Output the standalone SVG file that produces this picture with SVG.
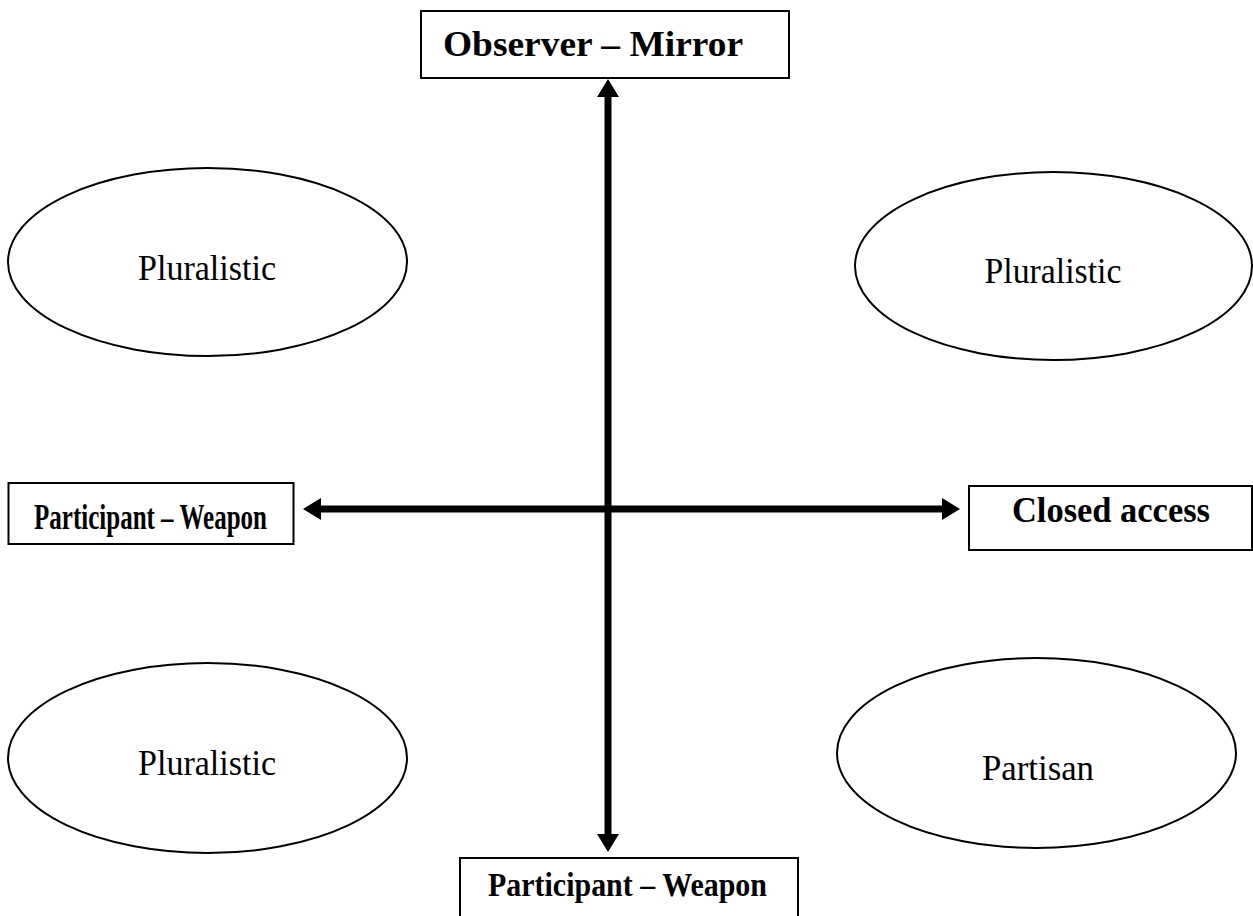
<svg xmlns="http://www.w3.org/2000/svg" width="1253" height="916" viewBox="0 0 1253 916">
<style>
.box{fill:#fff;stroke:#000;stroke-width:2}
.ell{fill:#fff;stroke:#000;stroke-width:2}
.bt{font-family:"Liberation Serif","Times New Roman",serif;font-weight:bold;fill:#000}
.et{font-family:"Liberation Serif","Times New Roman",serif;font-size:35px;fill:#000;text-anchor:middle}
.ax{stroke:#000;stroke-width:7;fill:none;marker-start:url(#ah);marker-end:url(#ah)}
</style>
<defs>
<marker id="ah" markerUnits="userSpaceOnUse" markerWidth="20" markerHeight="24" refX="0" refY="11" orient="auto-start-reverse" viewBox="0 0 20 24">
<path d="M0,0 L18,11 L0,22 z" fill="#000"/>
</marker>
</defs>
<rect width="1253" height="916" fill="#fff"/>
<g id="connectors">
<line class="ax" x1="608" y1="97" x2="608" y2="834"/>
<line class="ax" x1="321" y1="509" x2="942" y2="509"/>
</g>
<g id="observer-mirror">
<rect class="box" x="421" y="11" width="368" height="67"/>
<text class="bt" x="443" y="56" font-size="36" textLength="300" lengthAdjust="spacingAndGlyphs">Observer – Mirror</text>
</g>
<g id="participant-weapon-left">
<rect class="box" x="8.5" y="483" width="285" height="61"/>
<text class="bt" x="34" y="529" font-size="36" textLength="233" lengthAdjust="spacingAndGlyphs">Participant – Weapon</text>
</g>
<g id="closed-access">
<rect class="box" x="969" y="486" width="283" height="64"/>
<text class="bt" x="1012" y="522" font-size="35" textLength="198" lengthAdjust="spacingAndGlyphs">Closed access</text>
</g>
<g id="participant-weapon-bottom">
<rect class="box" x="460" y="858" width="338" height="70"/>
<text class="bt" x="488" y="896" font-size="33" textLength="279" lengthAdjust="spacingAndGlyphs">Participant – Weapon</text>
</g>
<g id="pluralistic-tl">
<ellipse class="ell" cx="207.5" cy="262" rx="199.5" ry="94"/>
<text class="et" x="207" y="280" textLength="138" lengthAdjust="spacingAndGlyphs">Pluralistic</text>
</g>
<g id="pluralistic-tr">
<ellipse class="ell" cx="1053.5" cy="266" rx="198.5" ry="94"/>
<text class="et" x="1053" y="283" textLength="137" lengthAdjust="spacingAndGlyphs">Pluralistic</text>
</g>
<g id="pluralistic-bl">
<ellipse class="ell" cx="207.5" cy="758" rx="199.5" ry="95"/>
<text class="et" x="207" y="775" textLength="138" lengthAdjust="spacingAndGlyphs">Pluralistic</text>
</g>
<g id="partisan-br">
<ellipse class="ell" cx="1036.5" cy="753" rx="199.5" ry="95"/>
<text class="et" x="1038" y="780" font-size="37" textLength="112" lengthAdjust="spacingAndGlyphs">Partisan</text>
</g>
</svg>
